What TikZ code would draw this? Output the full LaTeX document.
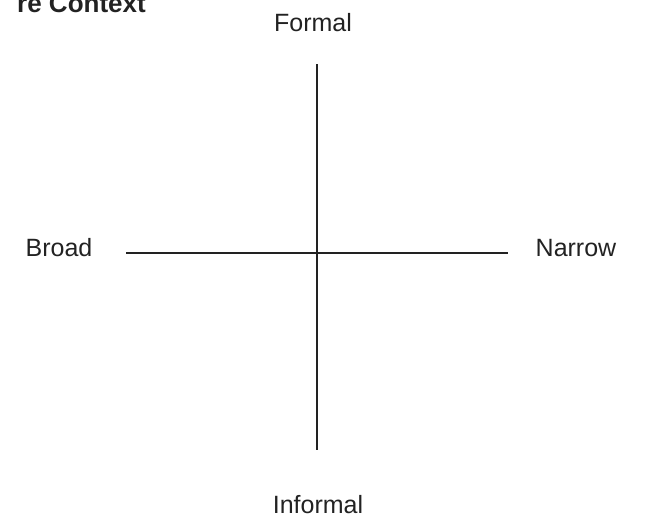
\documentclass[tikz,border=0pt]{standalone}
\usepackage{fontspec}
\setmainfont{Liberation Sans}
\usetikzlibrary{positioning}
\definecolor{tinta}{HTML}{222222}

\begin{document}
\begin{tikzpicture}[x=1pt, y=-1pt,
      etiqueta/.style={text=tinta, font=\fontsize{25}{30}\selectfont, inner sep=0pt},
      titulo/.style={text=tinta, font=\fontsize{26}{31}\selectfont\bfseries, inner sep=0pt},
      eje/.style={draw=tinta, line width=2pt}]
    \useasboundingbox (0,0) rectangle (658,523);
    \clip (0,0) rectangle (658,523);
    \node[titulo, anchor=base east] (tit) at (146,12) {re Context};
    \coordinate (arriba) at (317,64);
    \coordinate (abajo) at (317,450);
    \coordinate (izq) at (126,253);
    \coordinate (der) at (508,253);
    \node[etiqueta, anchor=base] (formal) at (313,31) {Formal};
    \node[etiqueta, anchor=base] (informal) at (318,513) {Informal};
    \node[etiqueta, anchor=base] (amplio) at (59,256) {Broad};
    \node[etiqueta, anchor=base] (estrecho) at (576,256) {Narrow};
    \draw[eje] (arriba) -- (abajo);
    \draw[eje] (izq) -- (der);
  \end{tikzpicture}
\end{document}
